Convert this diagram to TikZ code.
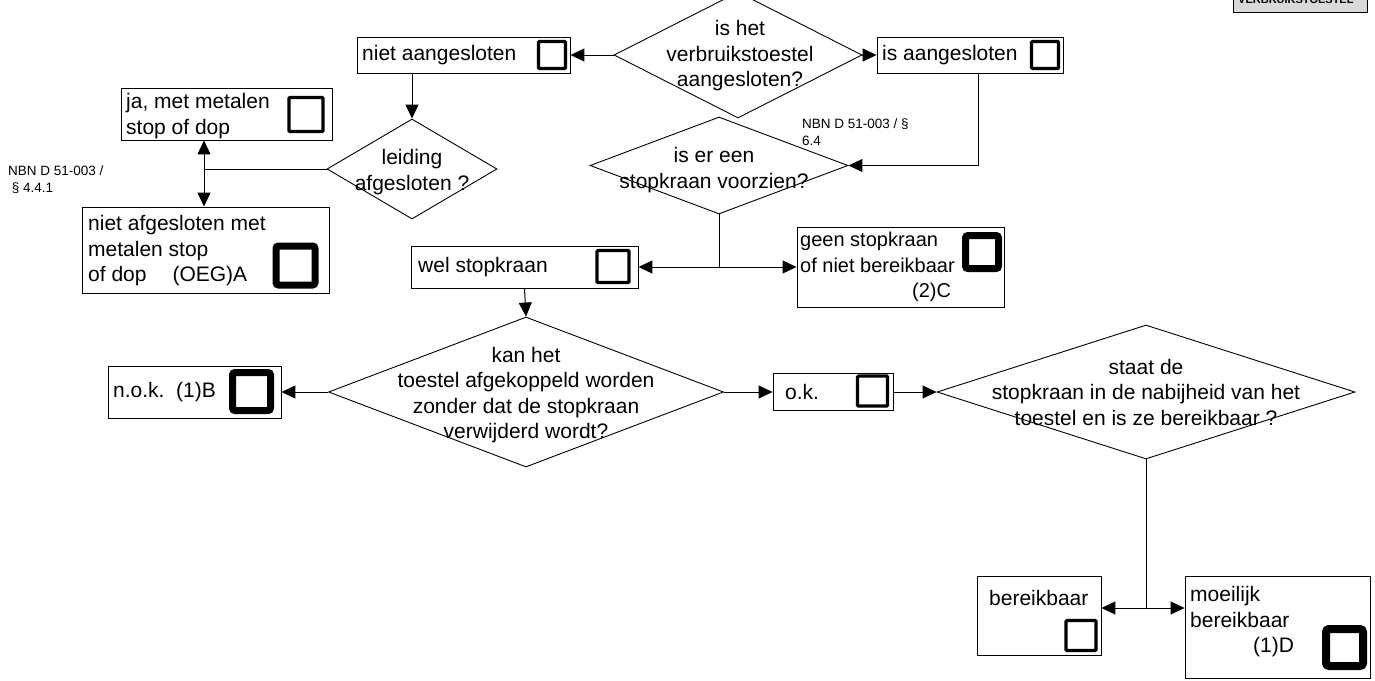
\documentclass[tikz,border=0pt]{standalone}
\usepackage{fontspec}
\setmainfont{Liberation Sans}
\usetikzlibrary{shapes.geometric,arrows.meta}
\begin{document}
\begin{tikzpicture}[x=1pt,y=-1pt,
  box/.style={draw, line width=0.9pt, rectangle, inner sep=0pt},
  dia/.style={draw, line width=0.9pt, diamond, inner sep=0pt},
  sqm/.style={draw, line width=3.2pt, rectangle, inner sep=0pt, rounded corners=1pt},
  sqt/.style={draw, line width=7pt, rectangle, inner sep=0pt, rounded corners=2.5pt},
  txt/.style={font=\fontsize{21}{25.5}\selectfont, align=left, inner sep=0pt},
  ctxt/.style={font=\fontsize{21}{25.5}\selectfont, align=center, inner sep=0pt},
  small/.style={font=\fontsize{13.5}{17}\selectfont, align=left, inner sep=0pt},
  arr/.style={-{Triangle[length=14pt,width=13pt]}, line width=1pt},
  ln/.style={line width=1pt}]
\useasboundingbox (0,0) rectangle (1375,680);
\clip (0,0) rectangle (1375,680);

% top-right header box (cut off)
\node[draw, line width=0.9pt, fill=black!15, minimum width=134pt, minimum height=40pt, inner sep=0pt] (hdr) at (1300,-8) {};
\node[font=\fontsize{11}{13}\bfseries, anchor=base west, inner sep=0pt] (hdrt) at (1238,4) {VERBRUIKSTOESTEL};

% boxes
\node[box, minimum width=213pt, minimum height=36pt] (niet) at (463.5,55) {};
\node[box, minimum width=186pt, minimum height=36pt] (isa) at (970,55) {};
\node[box, minimum width=211pt, minimum height=52pt] (ja) at (226.5,114) {};
\node[box, minimum width=247pt, minimum height=86pt] (nafg) at (205.5,250) {};
\node[box, minimum width=227pt, minimum height=42pt] (wel) at (524.5,267) {};
\node[box, minimum width=207pt, minimum height=80pt] (geen) at (900.5,267) {};
\node[box, minimum width=173pt, minimum height=52pt] (nok) at (194.5,392) {};
\node[box, minimum width=120pt, minimum height=37pt] (ok) at (833,391.5) {};
\node[box, minimum width=124pt, minimum height=79pt] (ber) at (1039,615.5) {};
\node[box, minimum width=185pt, minimum height=102pt] (moe) at (1277.5,627) {};

% squares
\node[sqm, minimum size=27pt] (s1) at (552,55) {};
\node[sqm, minimum size=27pt] (s2) at (1045,55) {};
\node[sqm, minimum size=34pt] (s3) at (306,114.5) {};
\node[sqt, minimum size=39pt] (s4) at (295.5,265.5) {};
\node[sqm, minimum size=32pt] (s5) at (613,266.5) {};
\node[sqt, minimum size=33pt] (s6) at (982,252) {};
\node[sqt, minimum size=38pt] (s7) at (251.5,391.5) {};
\node[sqm, minimum size=30pt] (s8) at (872.5,391) {};
\node[sqm, minimum size=30pt] (s9) at (1081,635.5) {};
\node[draw, line width=8pt, rectangle, inner sep=0pt, rounded corners=3pt, minimum size=37pt] (s10) at (1344.5,647.5) {};

% box texts
\node[txt, anchor=west] (tniet) at (362,55) {niet aangesloten};
\node[txt, anchor=west] (tisa) at (882,55) {is aangesloten};
\node[txt, anchor=west] (tja) at (126,116) {ja, met metalen\\stop of dop};
\node[txt, anchor=west] (tnafg) at (88,251) {niet afgesloten met\\metalen stop\\of dop\hspace{26pt}(OEG)A};
\node[txt, anchor=west] (twel) at (418,267) {wel stopkraan};
\node[txt, anchor=west, font=\fontsize{20}{25.5}\selectfont] (tgeen) at (800,267) {geen stopkraan\\of niet bereikbaar\\\hspace{112pt}(2)C};
\node[txt, anchor=west] (tnok) at (113,392) {n.o.k.\ \ (1)B};
\node[txt, anchor=west] (tok) at (785,392) {o.k.};
\node[txt, anchor=west] (tber) at (989,598) {bereikbaar};
\node[txt, anchor=west] (tmoe) at (1190,622) {moeilijk\\bereikbaar\\\hspace{63pt}(1)D};

% diamonds
\node[dia, minimum width=248pt, minimum height=126pt] (d1) at (738,55) {};
\node[dia, minimum width=170pt, minimum height=100pt] (dl) at (412,169) {};
\node[dia, minimum width=258pt, minimum height=97pt] (ds) at (719,165.5) {};
\node[dia, minimum width=395pt, minimum height=150pt] (dk) at (526,392) {};
\node[dia, minimum width=418pt, minimum height=134pt] (dst) at (1146,392) {};

% diamond texts
\node[ctxt] (td1) at (740,56) {is het\\verbruikstoestel\\aangesloten?};
\node[ctxt] (tdl) at (412,172) {leiding\\afgesloten ?};
\node[ctxt] (tds) at (714,170) {is er een\\stopkraan voorzien?};
\node[ctxt] (tdk) at (526,395) {kan het\\toestel afgekoppeld worden\\zonder dat de stopkraan\\verwijderd wordt?};
\node[ctxt] (tdst) at (1146,392) {staat de\\stopkraan in de nabijheid van het\\toestel en is ze bereikbaar ?};

% references
\node[small, anchor=west] (ref1) at (8,180) {NBN D 51-003 /\\\ \S\ 4.4.1};
\node[small, anchor=west] (ref2) at (802,132) {NBN D 51-003 / \S\\6.4};

% connector joints
\coordinate (j1) at (204,169);
\coordinate (j2) at (978,165.5);
\coordinate (j3) at (719,267);
\coordinate (j4) at (1146,608);

% connectors
\draw[arr] (d1.west) -- (niet.east);
\draw[arr] (d1.east) -- (isa.west);
\draw[arr] (dl.north |- niet.south) -- (dl.north);
\draw[ln] (dl.west) -- (j1);
\draw[arr] (j1) -- (j1 |- ja.south);
\draw[arr] (j1) -- (j1 |- nafg.north);
\draw[ln] (j2 |- isa.south) -- (j2);
\draw[arr] (j2) -- (ds.east);
\draw[ln] (ds.south) -- (j3);
\draw[arr] (j3) -- (wel.east);
\draw[arr] (j3) -- (geen.west);
\draw[arr] (wel.south) -- (dk.north);
\draw[arr] (dk.west) -- (nok.east);
\draw[arr] (dk.east) -- (ok.west |- dk.east);
\draw[arr] (ok.east |- dst.west) -- (dst.west);
\draw[ln] (dst.south) -- (j4);
\draw[arr] (j4) -- (j4 -| ber.east);
\draw[arr] (j4) -- (j4 -| moe.west);
\end{tikzpicture}
\end{document}
